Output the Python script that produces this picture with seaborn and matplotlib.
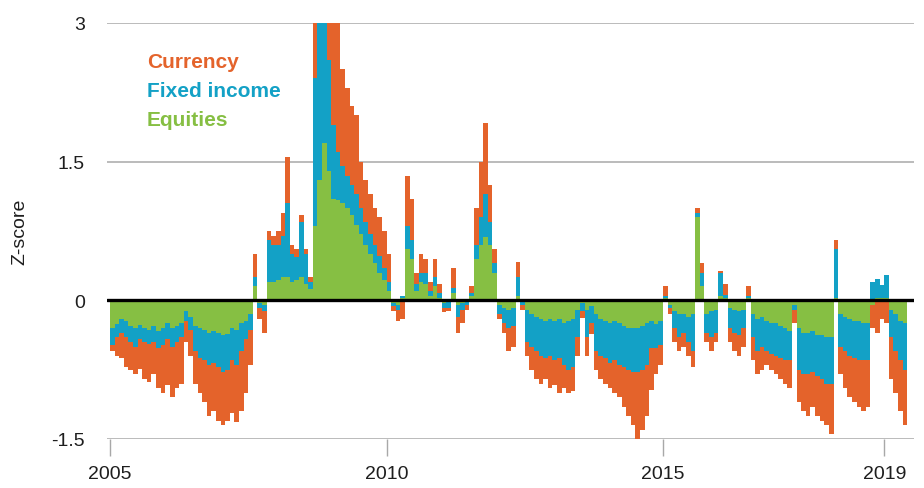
import numpy as np
import matplotlib
matplotlib.use("Agg")
import matplotlib.pyplot as plt
import seaborn as sns

# ---------------- data (monthly z-score contributions, Jan 2005 - May 2019) -------------
START_YEAR = 2005
series_names = ["Equities", "Fixed income", "Currency"]

equities = [
    -0.30, -0.26, -0.20, -0.22, -0.28, -0.30, -0.27, -0.30, -0.32, -0.28, -0.33, -0.30,  # 2005
    -0.25, -0.30, -0.28, -0.25, -0.12, -0.18, -0.28, -0.30, -0.32, -0.35, -0.33, -0.35,  # 2006
    -0.38, -0.36, -0.30, -0.32, -0.25, -0.22, -0.15, 0.15, -0.03, -0.05, 0.20, 0.20,     # 2007
    0.22, 0.25, 0.25, 0.20, 0.22, 0.25, 0.18, 0.12, 0.80, 1.30, 1.70, 1.40,              # 2008
    1.10, 1.08, 1.05, 1.00, 0.92, 0.82, 0.72, 0.60, 0.50, 0.40, 0.30, 0.22,              # 2009
    0.10, -0.03, -0.05, 0.03, 0.55, 0.45, 0.10, 0.20, 0.18, 0.05, 0.15, 0.03,            # 2010
    -0.03, -0.02, 0.08, -0.05, -0.03, -0.02, 0.05, 0.45, 0.60, 0.68, 0.60, 0.30,         # 2011
    -0.05, -0.08, -0.10, -0.08, 0.05, -0.02, -0.10, -0.15, -0.18, -0.20, -0.22, -0.20,   # 2012
    -0.22, -0.20, -0.25, -0.22, -0.20, -0.10, -0.03, -0.10, -0.06, -0.15, -0.20, -0.22,  # 2013
    -0.25, -0.22, -0.25, -0.28, -0.30, -0.30, -0.30, -0.28, -0.25, -0.22, -0.26, -0.22,  # 2014
    0.03, -0.05, -0.12, -0.15, -0.15, -0.18, -0.15, 0.90, 0.15, -0.15, -0.12, -0.10,     # 2015
    0.05, 0.03, -0.08, -0.10, -0.12, -0.10, 0.02, -0.15, -0.20, -0.18, -0.22, -0.25,     # 2016
    -0.25, -0.28, -0.30, -0.33, -0.05, -0.30, -0.35, -0.35, -0.33, -0.38, -0.38, -0.40,  # 2017
    -0.40, 0.02, -0.15, -0.18, -0.20, -0.22, -0.22, -0.25, -0.25, -0.05, 0.03, 0.02,     # 2018
    0.02, -0.10, -0.15, -0.22, -0.25,                                                    # 2019
]

fixed_income = [
    -0.18, -0.14, -0.15, -0.18, -0.17, -0.20, -0.15, -0.15, -0.15, -0.17, -0.19, -0.18,  # 2005
    -0.17, -0.20, -0.17, -0.15, -0.10, -0.14, -0.27, -0.32, -0.33, -0.35, -0.35, -0.37,  # 2006
    -0.40, -0.39, -0.35, -0.38, -0.30, -0.20, -0.17, 0.10, -0.05, -0.07, 0.45, 0.40,     # 2007
    0.38, 0.45, 0.80, 0.30, 0.25, 0.60, 0.32, 0.08, 1.60, 2.00, 1.70, 1.20,              # 2008
    0.80, 0.52, 0.40, 0.35, 0.33, 0.33, 0.28, 0.25, 0.22, 0.20, 0.18, 0.13,              # 2009
    0.10, -0.03, -0.05, 0.02, 0.25, 0.20, 0.08, 0.10, 0.12, 0.05, 0.10, 0.05,            # 2010
    -0.05, -0.06, 0.05, -0.13, -0.07, -0.03, 0.03, 0.15, 0.30, 0.47, 0.25, 0.10,         # 2011
    -0.10, -0.17, -0.20, -0.20, 0.20, -0.03, -0.35, -0.35, -0.37, -0.40, -0.40, -0.40,   # 2012
    -0.43, -0.42, -0.45, -0.53, -0.52, -0.30, -0.08, -0.30, -0.18, -0.40, -0.40, -0.40,  # 2013
    -0.43, -0.43, -0.45, -0.44, -0.45, -0.48, -0.48, -0.47, -0.45, -0.30, -0.26, -0.26,  # 2014
    0.02, -0.03, -0.18, -0.25, -0.20, -0.27, -0.40, 0.05, 0.15, -0.20, -0.28, -0.25,     # 2015
    0.25, 0.03, -0.22, -0.25, -0.26, -0.20, 0.03, -0.25, -0.35, -0.32, -0.33, -0.33,     # 2016
    -0.35, -0.34, -0.35, -0.32, -0.05, -0.45, -0.45, -0.45, -0.45, -0.44, -0.47, -0.50,  # 2017
    -0.50, 0.53, -0.35, -0.37, -0.40, -0.40, -0.43, -0.40, -0.40, 0.20, 0.20, 0.15,      # 2018
    0.25, -0.30, -0.40, -0.43, -0.50,                                                    # 2019
]

currency = [
    -0.07, -0.20, -0.27, -0.32, -0.30, -0.30, -0.32, -0.40, -0.41, -0.35, -0.43, -0.52,  # 2005
    -0.50, -0.55, -0.50, -0.50, -0.23, -0.28, -0.35, -0.38, -0.45, -0.55, -0.52, -0.58,  # 2006
    -0.57, -0.55, -0.57, -0.62, -0.65, -0.58, -0.38, 0.25, -0.12, -0.23, 0.10, 0.10,     # 2007
    0.15, 0.25, 0.50, 0.10, 0.08, 0.07, 0.05, 0.05, 0.90, 1.00, 1.00, 1.20,              # 2008
    1.50, 1.50, 1.05, 0.95, 0.85, 0.85, 0.50, 0.45, 0.43, 0.40, 0.42, 0.40,              # 2009
    0.30, -0.06, -0.12, -0.20, 0.55, 0.45, 0.12, 0.20, 0.15, 0.10, 0.20, 0.10,           # 2010
    -0.05, -0.04, 0.22, -0.17, -0.15, -0.05, 0.07, 0.40, 0.60, 0.77, 0.40, 0.15,         # 2011
    -0.05, -0.10, -0.25, -0.22, 0.17, -0.05, -0.15, -0.25, -0.30, -0.30, -0.23, -0.35,   # 2012
    -0.27, -0.38, -0.25, -0.25, -0.26, -0.20, -0.08, -0.20, -0.12, -0.20, -0.25, -0.28,  # 2013
    -0.27, -0.35, -0.35, -0.43, -0.50, -0.57, -0.72, -0.65, -0.55, -0.45, -0.28, -0.22,  # 2014
    0.10, -0.07, -0.15, -0.15, -0.15, -0.15, -0.17, 0.05, 0.10, -0.10, -0.15, -0.10,     # 2015
    0.02, 0.12, -0.15, -0.20, -0.22, -0.20, 0.10, -0.25, -0.25, -0.25, -0.15, -0.17,     # 2016
    -0.20, -0.23, -0.25, -0.30, -0.15, -0.35, -0.40, -0.45, -0.37, -0.43, -0.45, -0.45,  # 2017
    -0.55, 0.10, -0.30, -0.40, -0.45, -0.48, -0.50, -0.55, -0.50, -0.25, -0.35, -0.20,   # 2018
    -0.25, -0.45, -0.45, -0.55, -0.60,                                                   # 2019
]

y_ticks = [-1.5, 0, 1.5, 3]
y_tick_labels = ["-1.5", "0", "1.5", "3"]
x_ticks = [2005, 2010, 2015, 2019]
x_tick_labels = ["2005", "2010", "2015", "2019"]

# ---------------- style ----------------
GREEN = "#86BF43"
BLUE = "#13A1C6"
ORANGE = "#E4632B"
GRID = "#A8A8A8"
TEXT = "#1E1E1E"

sns.set_theme(style="white")
plt.rcParams["font.family"] = ["Liberation Sans", "DejaVu Sans"]

W, H = 924, 489
fig = plt.figure(figsize=(W / 100, H / 100), dpi=100)
ax = fig.add_axes([107 / W, (H - 440) / H, (914 - 107) / W, (440 - 24) / H])

n = len(equities)
x_edges = START_YEAR + np.arange(n + 1) / 12.0

pos_base = np.zeros(n)
neg_base = np.zeros(n)
for vals, col in ((equities, GREEN), (fixed_income, BLUE), (currency, ORANGE)):
    v = np.asarray(vals, dtype=float)
    pos = np.clip(v, 0, None)
    neg = np.clip(v, None, 0)
    for base, part in ((pos_base, pos), (neg_base, neg)):
        lo = base
        hi = base + part
        ax.fill_between(x_edges, np.append(lo, lo[-1]), np.append(hi, hi[-1]),
                        step="post", color=col, linewidth=0, zorder=2)
    pos_base = pos_base + pos
    neg_base = neg_base + neg

px_per_year = 55.3
x_left = START_YEAR - 3 / px_per_year
x_right = START_YEAR + 804 / px_per_year
ax.set_xlim(x_left, x_right)
ax.set_ylim(-1.5, 3)

# grid lines
for yv in (3, 1.5, -1.5):
    ax.axhline(yv, color=GRID, linewidth=1.1, zorder=1)

# zero line with seaborn
sns.lineplot(x=[x_left, x_right], y=[0, 0], color="black", linewidth=2.4, ax=ax, zorder=5)

for s in ax.spines.values():
    s.set_visible(False)

ax.set_yticks(y_ticks)
ax.set_yticklabels(y_tick_labels)
ax.set_xticks(x_ticks)
ax.set_xticklabels(x_tick_labels)
ax.tick_params(axis="y", length=0, pad=16, labelsize=14, labelcolor=TEXT)
ax.tick_params(axis="x", direction="out", length=12, width=1.0, color=GRID,
               pad=7, labelsize=14, labelcolor=TEXT, bottom=True)

ax.set_ylabel("Z-score", fontsize=14, color=TEXT)
ax.yaxis.set_label_coords(-0.097, 0.5)
ax.set_xlabel("")

# legend as coloured text
legend_items = [("Currency", ORANGE, 68), ("Fixed income", BLUE, 97), ("Equities", GREEN, 126)]
for label, col, ybase in legend_items:
    fig.text(147 / W, 1 - ybase / H, label, color=col, fontsize=15,
             fontweight="bold", va="baseline", ha="left")

fig.savefig("out.png", dpi=100)
